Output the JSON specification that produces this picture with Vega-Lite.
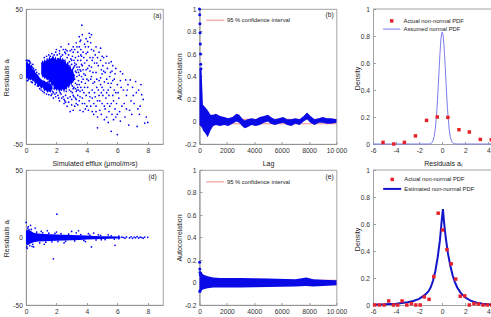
{
"$schema":"https://vega.github.io/schema/vega-lite/v6.json",
"padding":{"left":1,"top":5,"right":0,"bottom":0},
"background":"white",
"config":{
 "font":"Liberation Sans",
 "view":{"stroke":"#8c8c8c","strokeWidth":0.8},
 "axis":{"grid":false,"domainColor":"#8c8c8c","domainWidth":0.8,"tickColor":"#8c8c8c","tickWidth":0.8,"tickSize":-2.5,"labelPadding":6,"labelFontSize":6.7,"labelColor":"#333333","labelFont":"Liberation Sans","titleFont":"Liberation Sans","titleFontSize":7,"titleFontWeight":"normal","titleColor":"#222222","labelFlush":false,"labelOverlap":false},
 "legend":{"labelFont":"Liberation Sans","labelFontSize":5.8,"labelColor":"#222222"}
},
"datasets":{
 "aBand":[{"part":"L","x":0,"lo":-2,"hi":10},{"part":"L","x":0.08,"lo":-1,"hi":12},{"part":"L","x":0.15,"lo":-3,"hi":9},{"part":"L","x":0.22,"lo":-2,"hi":11},{"part":"L","x":0.3,"lo":-3,"hi":8},{"part":"L","x":0.38,"lo":-2,"hi":9},{"part":"L","x":0.45,"lo":-4,"hi":5},{"part":"L","x":0.52,"lo":-3,"hi":6},{"part":"L","x":0.6,"lo":-6,"hi":3},{"part":"L","x":0.7,"lo":-5,"hi":2},{"part":"L","x":0.8,"lo":-8,"hi":1},{"part":"L","x":0.9,"lo":-7,"hi":-1},{"part":"L","x":1.0,"lo":-9,"hi":-2},{"part":"L","x":1.1,"lo":-8,"hi":-3},{"part":"L","x":1.2,"lo":-11,"hi":-3},{"part":"L","x":1.3,"lo":-10,"hi":-4},{"part":"L","x":1.4,"lo":-12,"hi":-4},{"part":"L","x":1.5,"lo":-11,"hi":-5},{"part":"L","x":1.6,"lo":-12,"hi":-5},{"part":"L","x":1.7,"lo":-10,"hi":-7},{"part":"L","x":1.75,"lo":-9,"hi":-8},
  {"part":"M","x":1.0,"lo":2,"hi":9},{"part":"M","x":1.08,"lo":-1,"hi":12},{"part":"M","x":1.15,"lo":0,"hi":10},{"part":"M","x":1.22,"lo":-2,"hi":13},{"part":"M","x":1.3,"lo":-1,"hi":11},{"part":"M","x":1.38,"lo":-3,"hi":14},{"part":"M","x":1.46,"lo":-2,"hi":12},{"part":"M","x":1.54,"lo":-5,"hi":15},{"part":"M","x":1.62,"lo":-4,"hi":13},{"part":"M","x":1.7,"lo":-8,"hi":14},{"part":"M","x":1.78,"lo":-6,"hi":16},{"part":"M","x":1.86,"lo":-10,"hi":13},{"part":"M","x":1.94,"lo":-9,"hi":15},{"part":"M","x":2.02,"lo":-11,"hi":12},{"part":"M","x":2.1,"lo":-9,"hi":14},{"part":"M","x":2.18,"lo":-12,"hi":13},{"part":"M","x":2.26,"lo":-10,"hi":15},{"part":"M","x":2.34,"lo":-11,"hi":12},{"part":"M","x":2.42,"lo":-9,"hi":14},{"part":"M","x":2.5,"lo":-12,"hi":11},{"part":"M","x":2.58,"lo":-9,"hi":13},{"part":"M","x":2.66,"lo":-10,"hi":9},{"part":"M","x":2.74,"lo":-7,"hi":11},{"part":"M","x":2.82,"lo":-9,"hi":7},{"part":"M","x":2.9,"lo":-5,"hi":9},{"part":"M","x":2.98,"lo":-7,"hi":5},{"part":"M","x":3.06,"lo":-3,"hi":6},{"part":"M","x":3.14,"lo":-4,"hi":2},{"part":"M","x":3.2,"lo":-1,"hi":1}],
 "aPts":[{"x":0.02,"y":12},{"x":0.05,"y":8},{"x":0.08,"y":-3},{"x":0.1,"y":12},{"x":0.12,"y":-3},{"x":0.18,"y":11.5},{"x":0.2,"y":12},{"x":0.25,"y":11},{"x":0.3,"y":10},{"x":0.35,"y":-4},{"x":0.4,"y":7},{"x":0.42,"y":-4.5},{"x":0.45,"y":9},{"x":0.5,"y":6},{"x":0.55,"y":4},{"x":0.6,"y":-6},{"x":0.65,"y":5},{"x":0.7,"y":3},{"x":0.75,"y":-7},{"x":0.85,"y":2},{"x":0.9,"y":-9},{"x":1.0,"y":-10},{"x":1.1,"y":-11},{"x":1.2,"y":-12},{"x":1.35,"y":-13},{"x":1.5,"y":-13.5},{"x":1.65,"y":-14},{"x":1.7,"y":-13},{"x":1.8,"y":-12},{"x":1.85,"y":-9},
  {"x":1.05,"y":10},{"x":1.1,"y":11},{"x":1.2,"y":14},{"x":1.35,"y":15},{"x":1.5,"y":16},{"x":1.6,"y":15},{"x":1.7,"y":17},{"x":1.85,"y":16},{"x":1.95,"y":18},{"x":2.05,"y":16},{"x":2.2,"y":17},{"x":2.3,"y":15},{"x":2.4,"y":16},{"x":2.55,"y":18},{"x":2.7,"y":14},{"x":2.8,"y":16},{"x":2.95,"y":13},{"x":3.05,"y":15},{"x":3.15,"y":12},
  {"x":1.9,"y":-13},{"x":2.0,"y":-12},{"x":2.1,"y":-14},{"x":2.3,"y":-13},{"x":2.45,"y":-15},{"x":2.6,"y":-14},{"x":2.75,"y":-16},{"x":2.9,"y":-15},{"x":3.0,"y":-17},{"x":3.1,"y":-14},{"x":3.25,"y":-16},
  {"x":2.5,"y":-17},{"x":2.6,"y":-19},{"x":2.8,"y":-19},{"x":3.0,"y":-21},{"x":2.6,"y":17},{"x":2.9,"y":19},{"x":3.1,"y":18},{"x":3.3,"y":-17},{"x":3.4,"y":-21},{"x":3.5,"y":22},{"x":3.6,"y":12},{"x":3.55,"y":-15},{"x":3.45,"y":-10},{"x":3.6,"y":4},{"x":3.65,"y":-4},{"x":3.7,"y":-10},{"x":2.9,"y":-26},{"x":3.1,"y":-25},{"x":2.5,"y":-20},{"x":2.7,"y":-22},{"x":2.2,"y":-18},{"x":2.4,"y":12},{"x":2.6,"y":20},{"x":2.3,"y":22},{"x":2.8,"y":24},{"x":2.0,"y":20},{"x":1.8,"y":-16},
  {"x":2.95,"y":-11},{"x":3.05,"y":-12},{"x":2.85,"y":11},{"x":3.0,"y":9},{"x":3.1,"y":-9},{"x":3.3,"y":-11},{"x":3.35,"y":7},{"x":3.2,"y":10},{"x":3.5,"y":-6},{"x":3.55,"y":5},
  {"x":3.0,"y":20},{"x":3.1,"y":22},{"x":3.2,"y":8},{"x":3.25,"y":-5},{"x":3.3,"y":25},{"x":3.35,"y":-10},{"x":3.4,"y":18},{"x":3.45,"y":3},{"x":3.5,"y":-18},{"x":3.3,"y":-20},{"x":3.15,"y":-8},{"x":3.2,"y":-22},{"x":3.05,"y":5},{"x":3.4,"y":12},{"x":3.5,"y":7},{"x":3.45,"y":-3},{"x":3.35,"y":0},{"x":3.25,"y":14},{"x":3.15,"y":1},{"x":3.4,"y":-14},
  {"x":3.55,"y":26},{"x":3.6,"y":20},{"x":3.65,"y":15},{"x":3.7,"y":8},{"x":3.75,"y":-2},{"x":3.8,"y":-12},{"x":3.85,"y":-20},{"x":3.9,"y":22},{"x":3.95,"y":5},{"x":3.6,"y":-8},{"x":3.7,"y":-16},{"x":3.8,"y":2},{"x":3.9,"y":-5},{"x":4.0,"y":12},{"x":3.65,"y":0},{"x":3.75,"y":18},{"x":3.85,"y":10},{"x":3.95,"y":-14},{"x":4.0,"y":-22},{"x":3.55,"y":-25},{"x":3.7,"y":31},{"x":3.95,"y":28},{"x":3.67,"y":38},{"x":3.5,"y":29.5},{"x":3.6,"y":27},
  {"x":4.05,"y":18},{"x":4.1,"y":-3},{"x":4.15,"y":8},{"x":4.2,"y":-15},{"x":4.25,"y":25},{"x":4.3,"y":0},{"x":4.35,"y":-10},{"x":4.4,"y":14},{"x":4.45,"y":-20},{"x":4.1,"y":-25},{"x":4.2,"y":4},{"x":4.3,"y":20},{"x":4.4,"y":-5},{"x":4.5,"y":10},{"x":4.05,"y":-8},{"x":4.15,"y":-18},{"x":4.25,"y":-2},{"x":4.35,"y":12},{"x":4.45,"y":-28},{"x":4.5,"y":-12},{"x":4.15,"y":32},{"x":4.3,"y":31},
  {"x":4.55,"y":16},{"x":4.6,"y":3},{"x":4.65,"y":-8},{"x":4.7,"y":-18},{"x":4.75,"y":8},{"x":4.8,"y":-3},{"x":4.85,"y":-25},{"x":4.9,"y":12},{"x":4.95,"y":-12},{"x":5.0,"y":2},{"x":4.6,"y":22},{"x":4.7,"y":-30},{"x":4.8,"y":-14},{"x":4.9,"y":-6},{"x":5.0,"y":-20},{"x":4.65,"y":10},{"x":4.9,"y":21},{"x":5.0,"y":15},{"x":4.7,"y":-38},
  {"x":5.05,"y":8},{"x":5.1,"y":-10},{"x":5.15,"y":-22},{"x":5.2,"y":3},{"x":5.25,"y":-16},{"x":5.3,"y":-30},{"x":5.35,"y":6},{"x":5.4,"y":-5},{"x":5.45,"y":-26},{"x":5.5,"y":0},{"x":5.1,"y":14},{"x":5.3,"y":-12},{"x":5.45,"y":10},{"x":5.3,"y":15},
  {"x":5.55,"y":-8},{"x":5.6,"y":-20},{"x":5.65,"y":4},{"x":5.7,"y":-14},{"x":5.75,"y":-32},{"x":5.8,"y":-2},{"x":5.85,"y":-24},{"x":5.9,"y":-12},{"x":6.0,"y":-28},{"x":5.7,"y":8},{"x":6.0,"y":-6},{"x":5.6,"y":11},{"x":5.9,"y":6},{"x":5.6,"y":-40.6},{"x":6.0,"y":-43},
  {"x":6.1,"y":-16},{"x":6.2,"y":-3},{"x":6.3,"y":-22},{"x":6.4,"y":-10},{"x":6.5,"y":-30},{"x":6.6,"y":-14},{"x":6.7,"y":-6},{"x":6.8,"y":-25},{"x":6.9,"y":-18},{"x":7.0,"y":-8},{"x":6.35,"y":2},{"x":6.75,"y":-36},{"x":6.2,"y":3.7},{"x":6.55,"y":-2.5},{"x":6.85,"y":-2.5},{"x":6.2,"y":-33},
  {"x":7.1,"y":-20},{"x":7.25,"y":-12},{"x":7.5,"y":-22},{"x":7.55,"y":-6},{"x":7.9,"y":-30},{"x":7.2,"y":-3.7},{"x":7.4,"y":-10},{"x":7.6,"y":-13.5},{"x":7.7,"y":-17},{"x":7.45,"y":-28},{"x":7.8,"y":-34.5},{"x":8.0,"y":-34},{"x":7.3,"y":-37},
  {"x":2.65,"y":-8},{"x":2.7,"y":5},{"x":2.75,"y":-3},{"x":2.8,"y":8},{"x":2.85,"y":-6},{"x":2.9,"y":2},{"x":2.95,"y":-1},{"x":3.0,"y":12},{"x":3.05,"y":-4},{"x":3.1,"y":6},{"x":3.15,"y":-15},{"x":3.2,"y":-2},{"x":3.25,"y":4},{"x":3.3,"y":9},{"x":3.35,"y":-6},{"x":3.4,"y":-8},{"x":3.45,"y":15},{"x":3.5,"y":1},{"x":3.55,"y":-11},{"x":3.6,"y":16},{"x":3.65,"y":9},{"x":3.7,"y":-20},{"x":3.75,"y":5},{"x":3.8,"y":14},{"x":3.85,"y":-8},{"x":3.9,"y":1},{"x":3.95,"y":17},{"x":4.0,"y":-2},{"x":4.05,"y":6},{"x":4.1,"y":22},{"x":4.15,"y":-12},{"x":4.2,"y":14},{"x":4.25,"y":-22},{"x":4.3,"y":7},{"x":4.35,"y":-16},{"x":4.4,"y":3},{"x":4.45,"y":19},{"x":4.5,"y":-4},{"x":4.55,"y":-15},{"x":4.6,"y":-22},{"x":4.65,"y":-2},{"x":4.7,"y":14},{"x":4.75,"y":-10},{"x":4.8,"y":18},{"x":4.85,"y":-18},{"x":4.9,"y":-1},{"x":4.95,"y":5},{"x":5.0,"y":-8},{"x":5.05,"y":-14},{"x":5.1,"y":4},{"x":5.15,"y":-4},{"x":5.2,"y":-24},{"x":5.25,"y":10},{"x":5.3,"y":-2},{"x":5.35,"y":-20},{"x":5.4,"y":-10},{"x":5.45,"y":-14},{"x":5.5,"y":-22},{"x":5.55,"y":3},{"x":5.6,"y":-5},{"x":5.65,"y":-28},{"x":5.7,"y":-3},{"x":5.75,"y":-18},{"x":5.8,"y":-10},{"x":5.85,"y":2},{"x":5.9,"y":-30},{"x":5.95,"y":-20},{"x":6.05,"y":-12},{"x":6.15,"y":-26},{"x":6.25,"y":-8},{"x":6.45,"y":-20},{"x":6.6,"y":-24},{"x":6.65,"y":-10},{"x":6.95,"y":-28},{"x":7.05,"y":-14},{"x":7.35,"y":-24},{"x":2.2,"y":19},{"x":2.45,"y":20},{"x":2.7,"y":19},{"x":2.55,"y":-18},{"x":2.35,"y":-16},{"x":1.95,"y":-15},{"x":2.15,"y":-16},{"x":3.2,"y":20},{"x":3.35,"y":22},{"x":3.85,"y":24},{"x":4.05,"y":26},{"x":4.2,"y":29},{"x":3.75,"y":-26},{"x":3.9,"y":-24},{"x":4.35,"y":-26},{"x":4.6,"y":-26},{"x":4.95,"y":-28},{"x":5.15,"y":-32},{"x":5.4,"y":-34},
  {"x":1.3,"y":11},{"x":1.45,"y":-4},{"x":1.55,"y":13},{"x":1.75,"y":-11},{"x":2.1,"y":13},{"x":2.25,"y":-12},{"x":2.5,"y":12},{"x":2.65,"y":-11},{"x":2.75,"y":10},{"x":2.85,"y":-10},{"x":3.05,"y":-7},{"x":3.15,"y":7},{"x":3.25,"y":-9},{"x":3.3,"y":3},{"x":3.4,"y":5}],
 "dBand":[{"x":0,"lo":-5,"hi":5},{"x":0.1,"lo":-6,"hi":6},{"x":0.2,"lo":-5,"hi":5.5},{"x":0.3,"lo":-4.5,"hi":5},{"x":0.5,"lo":-3.5,"hi":3.5},{"x":0.8,"lo":-3,"hi":3},{"x":1.2,"lo":-2.8,"hi":2.6},{"x":1.6,"lo":-2.6,"hi":2.4},{"x":2.0,"lo":-2.4,"hi":2.2},{"x":2.5,"lo":-2.2,"hi":2},{"x":3.0,"lo":-2,"hi":1.8},{"x":3.5,"lo":-1.8,"hi":1.6},{"x":4.0,"lo":-1.5,"hi":1.4},{"x":4.5,"lo":-1.3,"hi":1.2},{"x":5.0,"lo":-1.2,"hi":1},{"x":5.5,"lo":-1,"hi":0.9},{"x":6.0,"lo":-0.8,"hi":0.8},{"x":6.2,"lo":-0.5,"hi":0.5}],
 "dPts":[{"x":0,"y":11.2},{"x":2.03,"y":17.3},{"x":1.8,"y":-15.8},{"x":0.5,"y":-7},{"x":4.3,"y":-7},{"x":5.85,"y":-5.8},{"x":3.45,"y":5},{"x":3.0,"y":4.5},{"x":0.6,"y":7},{"x":1.0,"y":4.6},{"x":0.2,"y":5.8},{"x":4.1,"y":2.8},{"x":4.45,"y":3.3},{"x":4.75,"y":2},{"x":5.4,"y":2},{"x":4.95,"y":-1.6},{"x":6.1,"y":-0.9},{"x":6.4,"y":0},
  {"x":0.05,"y":-7},{"x":0.15,"y":8},{"x":0.25,"y":-6},{"x":0.35,"y":6},{"x":0.45,"y":-5},{"x":0.7,"y":4},{"x":0.9,"y":-4},{"x":1.1,"y":3.5},{"x":1.3,"y":-3.5},{"x":1.5,"y":3.2},{"x":1.7,"y":-3.2},{"x":1.9,"y":3},{"x":2.1,"y":-3},{"x":2.3,"y":2.8},{"x":2.6,"y":-2.8},{"x":2.8,"y":2.5},{"x":3.2,"y":-2.5},{"x":3.6,"y":2.2},{"x":3.8,"y":-2.2},{"x":4.2,"y":1.8},{"x":4.6,"y":-1.8},{"x":4.9,"y":1.6},{"x":5.2,"y":-1.5},{"x":5.6,"y":1.3},{"x":5.8,"y":-1.2},{"x":6.1,"y":1},
  {"x":6.3,"y":0.2},{"x":6.5,"y":-0.5},{"x":6.6,"y":0.4},{"x":6.8,"y":-0.3},{"x":6.9,"y":0.5},{"x":7.0,"y":-0.6},{"x":7.1,"y":0.3},{"x":7.2,"y":-0.2},{"x":7.3,"y":0.6},{"x":7.4,"y":-0.4},{"x":7.5,"y":0.2},{"x":7.6,"y":0},{"x":7.7,"y":-0.5},{"x":7.8,"y":0.3},{"x":8.0,"y":0.1},
  {"x":0.08,"y":-8},{"x":0.3,"y":9},{"x":1.4,"y":5},{"x":2.5,"y":-4},{"x":3.3,"y":3.5},{"x":0.4,"y":-6.5},{"x":0.12,"y":7},{"x":2.0,"y":4},{"x":1.2,"y":-5},{"x":3.9,"y":-3}],
 "bBand":[{"lag":0,"lo":-0.03,"hi":0.47},{"lag":150,"lo":-0.05,"hi":0.46},{"lag":200,"lo":-0.06,"hi":0.3},{"lag":250,"lo":-0.08,"hi":0.15},{"lag":400,"lo":-0.1,"hi":0.13},{"lag":600,"lo":-0.14,"hi":0.1},{"lag":800,"lo":-0.08,"hi":0.06},{"lag":1000,"lo":-0.04,"hi":0.06},{"lag":1200,"lo":-0.03,"hi":0.07},{"lag":1500,"lo":-0.04,"hi":0.05},{"lag":1800,"lo":-0.03,"hi":0.04},{"lag":2100,"lo":-0.04,"hi":0.03},{"lag":2400,"lo":-0.02,"hi":0.04},{"lag":2700,"lo":0.0,"hi":0.07},{"lag":2900,"lo":-0.01,"hi":0.06},{"lag":3100,"lo":-0.04,"hi":0.03},{"lag":3300,"lo":-0.06,"hi":0.01},{"lag":3500,"lo":-0.05,"hi":0.02},{"lag":3800,"lo":-0.03,"hi":0.03},{"lag":4100,"lo":-0.04,"hi":0.02},{"lag":4400,"lo":-0.03,"hi":0.04},{"lag":4700,"lo":-0.01,"hi":0.05},{"lag":5000,"lo":0.0,"hi":0.06},{"lag":5200,"lo":-0.02,"hi":0.04},{"lag":5500,"lo":-0.03,"hi":0.02},{"lag":5800,"lo":-0.02,"hi":0.03},{"lag":6100,"lo":-0.01,"hi":0.04},{"lag":6400,"lo":-0.03,"hi":0.02},{"lag":6700,"lo":-0.04,"hi":0.02},{"lag":7000,"lo":-0.02,"hi":0.03},{"lag":7300,"lo":-0.03,"hi":0.02},{"lag":7600,"lo":0.0,"hi":0.05},{"lag":7850,"lo":0.02,"hi":0.08},{"lag":8100,"lo":-0.01,"hi":0.05},{"lag":8400,"lo":-0.03,"hi":0.02},{"lag":8700,"lo":-0.01,"hi":0.03},{"lag":9000,"lo":-0.01,"hi":0.04},{"lag":9300,"lo":-0.02,"hi":0.03},{"lag":9600,"lo":-0.02,"hi":0.03},{"lag":10000,"lo":-0.01,"hi":0.02}],
 "bPts":[{"lag":0,"y":1},{"lag":15,"y":0.95},{"lag":30,"y":0.87},{"lag":45,"y":0.79},{"lag":60,"y":0.69},{"lag":75,"y":0.6},{"lag":90,"y":0.51},{"lag":105,"y":0.47}],
 "eBand":[{"lag":0,"lo":-0.08,"hi":0.09},{"lag":300,"lo":-0.06,"hi":0.07},{"lag":600,"lo":-0.05,"hi":0.055},{"lag":1000,"lo":-0.045,"hi":0.045},{"lag":1500,"lo":-0.045,"hi":0.04},{"lag":3000,"lo":-0.045,"hi":0.04},{"lag":5000,"lo":-0.04,"hi":0.035},{"lag":7000,"lo":-0.035,"hi":0.03},{"lag":7800,"lo":-0.03,"hi":0.045},{"lag":8300,"lo":-0.035,"hi":0.03},{"lag":9000,"lo":-0.03,"hi":0.025},{"lag":10000,"lo":-0.025,"hi":0.02}],
 "ePts":[{"lag":10,"y":0.18},{"lag":25,"y":0.12},{"lag":40,"y":0.09},{"lag":60,"y":0.07},{"lag":20,"y":-0.08},{"lag":50,"y":-0.07},{"lag":100,"y":0.08},{"lag":200,"y":0.06}],
 "ci":[{"lag":0,"lag2":10000,"ci":0.02,"s":"95 % confidence interval"},{"lag":0,"lag2":10000,"ci":-0.02,"s":"95 % confidence interval"}],
 "cLine":[{"x":-6,"y":0},{"x":-1.2,"y":0},{"x":-1.0,"y":0.003},{"x":-0.9,"y":0.009},{"x":-0.8,"y":0.024},{"x":-0.7,"y":0.055},{"x":-0.6,"y":0.112},{"x":-0.5,"y":0.207},{"x":-0.45,"y":0.269},{"x":-0.4,"y":0.341},{"x":-0.35,"y":0.42},{"x":-0.3,"y":0.503},{"x":-0.25,"y":0.587},{"x":-0.2,"y":0.665},{"x":-0.15,"y":0.732},{"x":-0.1,"y":0.785},{"x":-0.05,"y":0.818},{"x":0,"y":0.83},{"x":0.05,"y":0.818},{"x":0.1,"y":0.785},{"x":0.15,"y":0.732},{"x":0.2,"y":0.665},{"x":0.25,"y":0.587},{"x":0.3,"y":0.503},{"x":0.35,"y":0.42},{"x":0.4,"y":0.341},{"x":0.45,"y":0.269},{"x":0.5,"y":0.207},{"x":0.6,"y":0.112},{"x":0.7,"y":0.055},{"x":0.8,"y":0.024},{"x":0.9,"y":0.009},{"x":1.0,"y":0.003},{"x":1.2,"y":0},{"x":4.4,"y":0}],
 "cPts":[{"x":-5.13,"y":0.012},{"x":-4.2,"y":0},{"x":-3.28,"y":0.012},{"x":-2.32,"y":0.06},{"x":-1.36,"y":0.175},{"x":-0.43,"y":0.2},{"x":0.49,"y":0.197},{"x":1.45,"y":0.106},{"x":2.35,"y":0.089},{"x":3.3,"y":0.034},{"x":4.26,"y":0.032}],
 "fLine":[{"x":-6,"y":0.002},{"x":-5,"y":0.005},{"x":-4,"y":0.01},{"x":-3,"y":0.02},{"x":-2.5,"y":0.03},{"x":-2,"y":0.045},{"x":-1.5,"y":0.075},{"x":-1.2,"y":0.1},{"x":-1.0,"y":0.13},{"x":-0.8,"y":0.18},{"x":-0.6,"y":0.25},{"x":-0.4,"y":0.35},{"x":-0.2,"y":0.48},{"x":-0.05,"y":0.62},{"x":0.06,"y":0.71},{"x":0.15,"y":0.62},{"x":0.3,"y":0.5},{"x":0.5,"y":0.38},{"x":0.7,"y":0.29},{"x":0.9,"y":0.22},{"x":1.1,"y":0.17},{"x":1.3,"y":0.13},{"x":1.6,"y":0.09},{"x":2,"y":0.055},{"x":2.5,"y":0.03},{"x":3,"y":0.017},{"x":3.5,"y":0.009},{"x":4,"y":0.005},{"x":4.4,"y":0.003}],
 "fPts":[{"x":-5.86,"y":0},{"x":-5.45,"y":0},{"x":-5.04,"y":0},{"x":-4.64,"y":0.03},{"x":-4.23,"y":0},{"x":-3.86,"y":0},{"x":-3.48,"y":0.03},{"x":-3.07,"y":0},{"x":-2.67,"y":0.01},{"x":-2.29,"y":0},{"x":-1.91,"y":0},{"x":-1.55,"y":0.06},{"x":-1.14,"y":0.042},{"x":-0.73,"y":0.21},{"x":-0.35,"y":0.68},{"x":0.03,"y":0.556},{"x":0.41,"y":0.41},{"x":0.78,"y":0.305},{"x":1.17,"y":0.192},{"x":1.56,"y":0.065},{"x":1.95,"y":0.068},{"x":2.35,"y":0},{"x":2.75,"y":0.01},{"x":3.13,"y":0.007},{"x":3.54,"y":0},{"x":3.91,"y":0},{"x":4.29,"y":0}]
},
"columns":3,
"spacing":{"row":26,"column":36.5},
"bounds":"flush",
"resolve":{"scale":{"color":"independent"},"legend":{"color":"independent"}},
"concat":[
 {"width":137,"height":135,
  "encoding":{"x":{"field":"x","type":"quantitative","scale":{"domain":[0,9],"nice":false},"axis":{"values":[0,2,4,6,8],"labelExpr":"''+datum.value","title":"Simulated efflux (μmol/m²s)","titleY":15.5,"titleBaseline":"top"}},
   "y":{"field":"y","type":"quantitative","scale":{"domain":[-50,50],"nice":false},"axis":{"values":[-50,0,50],"labelExpr":"''+datum.value","title":"Residuals aₜ","titleAngle":270,"titleBaseline":"alphabetic","titleAlign":"center","titleX":-17.7,"titleY":67.5}}},
  "layer":[
   {"data":{"name":"aBand"},"mark":{"type":"area","color":"#0000ff"},"encoding":{"y":{"field":"lo","type":"quantitative","scale":{"domain":[-50,50],"nice":false},"axis":{"values":[-50,0,50],"labelExpr":"''+datum.value","title":"Residuals aₜ","titleAngle":270,"titleBaseline":"alphabetic","titleAlign":"center","titleX":-17.7,"titleY":67.5}},"y2":{"field":"hi"},"detail":{"field":"part"}}},
   {"data":{"name":"aPts"},"mark":{"type":"point","filled":true,"size":3,"color":"#0000ff","opacity":1}},
   {"data":{"values":[{"x":8.63,"y":45,"t":"(a)"}]},"mark":{"type":"text","fontSize":6.7,"color":"#222222"},"encoding":{"text":{"field":"t"}}}
  ]},
 {"width":137,"height":135,
  "encoding":{"x":{"field":"lag","type":"quantitative","scale":{"domain":[0,10000],"nice":false},"axis":{"values":[0,2000,4000,6000,8000,10000],"labelExpr":"datum.value==10000?'10 000':''+datum.value","title":"Lag","titleY":15.5,"titleBaseline":"top"}}},
  "layer":[
   {"data":{"name":"ci"},"mark":{"type":"rule","strokeWidth":0.8},"encoding":{"x2":{"field":"lag2"},"y":{"field":"ci","type":"quantitative","scale":{"domain":[-0.2,1],"nice":false},"axis":{"values":[-0.2,0,0.2,0.4,0.6,0.8,1],"labelExpr":"''+datum.value","title":"Autocorrelation","titleAngle":270,"titleBaseline":"alphabetic","titleAlign":"center","titleX":-18,"titleY":67.5}},"color":{"field":"s","type":"nominal","scale":{"range":["#f06a6a"]},"legend":{"title":null,"orient":"none","legendX":5.75,"legendY":1.2,"padding":0,"symbolType":"stroke","symbolSize":335,"symbolStrokeWidth":0.8,"labelFontSize":5.8,"labelOffset":1.7}}}},
   {"data":{"name":"bBand"},"mark":{"type":"area","color":"#0a0ae6"},"encoding":{"y":{"field":"lo","type":"quantitative","scale":{"domain":[-0.2,1],"nice":false},"axis":{"values":[-0.2,0,0.2,0.4,0.6,0.8,1],"labelExpr":"''+datum.value","title":"Autocorrelation","titleAngle":270,"titleBaseline":"alphabetic","titleAlign":"center","titleX":-18,"titleY":67.5}},"y2":{"field":"hi"}}},
   {"data":{"name":"bPts"},"mark":{"type":"point","filled":true,"size":9,"color":"#0a0ae6","opacity":1},"encoding":{"y":{"field":"y","type":"quantitative","scale":{"domain":[-0.2,1],"nice":false},"axis":{"values":[-0.2,0,0.2,0.4,0.6,0.8,1],"labelExpr":"''+datum.value","title":"Autocorrelation","titleAngle":270,"titleBaseline":"alphabetic","titleAlign":"center","titleX":-18,"titleY":67.5}}}},
   {"data":{"values":[{"lag":9500,"y":0.945,"t":"(b)"}]},"mark":{"type":"text","fontSize":6.7,"color":"#222222"},"encoding":{"y":{"field":"y","type":"quantitative","scale":{"domain":[-0.2,1],"nice":false},"axis":{"values":[-0.2,0,0.2,0.4,0.6,0.8,1],"labelExpr":"''+datum.value","title":"Autocorrelation","titleAngle":270,"titleBaseline":"alphabetic","titleAlign":"center","titleX":-18,"titleY":67.5}},"text":{"field":"t"}}}
  ]},
 {"width":120,"height":135,"view":{"stroke":null},
  "encoding":{"x":{"field":"x","type":"quantitative","scale":{"domain":[-6,4.4],"nice":false},"axis":{"values":[-6,-4,-2,0,2,4],"labelExpr":"''+datum.value","title":"Residuals aₜ","titleX":70,"titleY":15.5,"titleBaseline":"top"}},
   "y":{"field":"y","type":"quantitative","scale":{"domain":[0,1],"nice":false},"axis":{"values":[0,0.2,0.4,0.6,0.8,1],"labelExpr":"''+datum.value","title":"Density","titleAngle":270,"titleBaseline":"alphabetic","titleAlign":"center","titleX":-13.7,"titleY":69}}},
  "layer":[
   {"data":{"values":[{"x":-6,"x2":4.4,"y":1}]},"mark":{"type":"rule","color":"#8c8c8c","strokeWidth":0.8},"encoding":{"x2":{"field":"x2"}}},
   {"data":{"name":"cLine"},"transform":[{"calculate":"'Assumed normal PDF'","as":"s"}],"mark":{"type":"line","strokeWidth":1},"encoding":{"color":{"field":"s","type":"nominal","scale":{"domain":["Actual non-normal PDF","Assumed normal PDF"],"range":["#e8202a","#7b7bf0"]},"legend":{"title":null,"orient":"none","legendX":15.8,"legendY":9,"padding":0,"symbolSize":300,"labelFontSize":5.8,"labelOffset":9,"rowPadding":1.2,"encode":{"symbols":{"update":{"shape":{"signal":"datum.value === 'Assumed normal PDF' ? 'stroke' : 'square'"},"size":{"signal":"datum.value === 'Assumed normal PDF' ? 300 : 12"},"fill":{"signal":"datum.value === 'Assumed normal PDF' ? 'transparent' : '#e8202a'"},"stroke":{"signal":"datum.value === 'Assumed normal PDF' ? '#7b7bf0' : '#e8202a'"},"strokeWidth":{"signal":"datum.value === 'Assumed normal PDF' ? 1 : 0"},"opacity":{"value":1}}}}}}}},
   {"data":{"name":"cPts"},"transform":[{"calculate":"'Actual non-normal PDF'","as":"s"}],"mark":{"type":"point","shape":"square","filled":true,"size":12,"opacity":1},"encoding":{"color":{"field":"s","type":"nominal","scale":{"domain":["Actual non-normal PDF","Assumed normal PDF"],"range":["#e8202a","#7b7bf0"]},"legend":{"title":null,"orient":"none","legendX":15.8,"legendY":9,"padding":0,"symbolSize":300,"labelFontSize":5.8,"labelOffset":9,"rowPadding":1.2,"encode":{"symbols":{"update":{"shape":{"signal":"datum.value === 'Assumed normal PDF' ? 'stroke' : 'square'"},"size":{"signal":"datum.value === 'Assumed normal PDF' ? 300 : 12"},"fill":{"signal":"datum.value === 'Assumed normal PDF' ? 'transparent' : '#e8202a'"},"stroke":{"signal":"datum.value === 'Assumed normal PDF' ? '#7b7bf0' : '#e8202a'"},"strokeWidth":{"signal":"datum.value === 'Assumed normal PDF' ? 1 : 0"},"opacity":{"value":1}}}}}}}}
  ]},
 {"width":137,"height":135,
  "encoding":{"x":{"field":"x","type":"quantitative","scale":{"domain":[0,9],"nice":false},"axis":{"values":[0,2,4,6,8],"labelExpr":"''+datum.value","title":null}},
   "y":{"field":"y","type":"quantitative","scale":{"domain":[-50,50],"nice":false},"axis":{"values":[-50,0,50],"labelExpr":"''+datum.value","title":"Residuals aₜ","titleAngle":270,"titleBaseline":"alphabetic","titleAlign":"center","titleX":-17.7,"titleY":67.5}}},
  "layer":[
   {"data":{"name":"dBand"},"mark":{"type":"area","color":"#0000ff"},"encoding":{"y":{"field":"lo","type":"quantitative","scale":{"domain":[-50,50],"nice":false},"axis":{"values":[-50,0,50],"labelExpr":"''+datum.value","title":"Residuals aₜ","titleAngle":270,"titleBaseline":"alphabetic","titleAlign":"center","titleX":-17.7,"titleY":67.5}},"y2":{"field":"hi"}}},
   {"data":{"name":"dPts"},"mark":{"type":"point","filled":true,"size":3,"color":"#0000ff","opacity":1}},
   {"data":{"values":[{"x":8.32,"y":45,"t":"(d)"}]},"mark":{"type":"text","fontSize":6.7,"color":"#222222"},"encoding":{"text":{"field":"t"}}}
  ]},
 {"width":137,"height":135,
  "encoding":{"x":{"field":"lag","type":"quantitative","scale":{"domain":[0,10000],"nice":false},"axis":{"values":[0,2000,4000,6000,8000,10000],"labelExpr":"datum.value==10000?'10 000':''+datum.value","title":null}}},
  "layer":[
   {"data":{"name":"ci"},"mark":{"type":"rule","strokeWidth":0.8},"encoding":{"x2":{"field":"lag2"},"y":{"field":"ci","type":"quantitative","scale":{"domain":[-0.2,1],"nice":false},"axis":{"values":[-0.2,0,0.2,0.4,0.6,0.8,1],"labelExpr":"''+datum.value","title":"Autocorrelation","titleAngle":270,"titleBaseline":"alphabetic","titleAlign":"center","titleX":-18,"titleY":67.5}},"color":{"field":"s","type":"nominal","scale":{"range":["#f06a6a"]},"legend":{"title":null,"orient":"none","legendX":5.75,"legendY":1.9,"padding":0,"symbolType":"stroke","symbolSize":335,"symbolStrokeWidth":0.8,"labelFontSize":5.8,"labelOffset":1.7}}}},
   {"data":{"name":"eBand"},"mark":{"type":"area","color":"#0a0ae6"},"encoding":{"y":{"field":"lo","type":"quantitative","scale":{"domain":[-0.2,1],"nice":false},"axis":{"values":[-0.2,0,0.2,0.4,0.6,0.8,1],"labelExpr":"''+datum.value","title":"Autocorrelation","titleAngle":270,"titleBaseline":"alphabetic","titleAlign":"center","titleX":-18,"titleY":67.5}},"y2":{"field":"hi"}}},
   {"data":{"name":"ePts"},"mark":{"type":"point","filled":true,"size":9,"color":"#0a0ae6","opacity":1},"encoding":{"y":{"field":"y","type":"quantitative","scale":{"domain":[-0.2,1],"nice":false},"axis":{"values":[-0.2,0,0.2,0.4,0.6,0.8,1],"labelExpr":"''+datum.value","title":"Autocorrelation","titleAngle":270,"titleBaseline":"alphabetic","titleAlign":"center","titleX":-18,"titleY":67.5}}}},
   {"data":{"values":[{"lag":9500,"y":0.94,"t":"(e)"}]},"mark":{"type":"text","fontSize":6.7,"color":"#222222"},"encoding":{"y":{"field":"y","type":"quantitative","scale":{"domain":[-0.2,1],"nice":false},"axis":{"values":[-0.2,0,0.2,0.4,0.6,0.8,1],"labelExpr":"''+datum.value","title":"Autocorrelation","titleAngle":270,"titleBaseline":"alphabetic","titleAlign":"center","titleX":-18,"titleY":67.5}},"text":{"field":"t"}}}
  ]},
 {"width":120,"height":135,"view":{"stroke":null},
  "encoding":{"x":{"field":"x","type":"quantitative","scale":{"domain":[-6,4.4],"nice":false},"axis":{"values":[-6,-4,-2,0,2,4],"labelExpr":"''+datum.value","title":null}},
   "y":{"field":"y","type":"quantitative","scale":{"domain":[0,1],"nice":false},"axis":{"values":[0,0.2,0.4,0.6,0.8,1],"labelExpr":"''+datum.value","title":"Density","titleAngle":270,"titleBaseline":"alphabetic","titleAlign":"center","titleX":-13.7,"titleY":69}}},
  "layer":[
   {"data":{"values":[{"x":-6,"x2":4.4,"y":1}]},"mark":{"type":"rule","color":"#8c8c8c","strokeWidth":0.8},"encoding":{"x2":{"field":"x2"}}},
   {"data":{"name":"fLine"},"transform":[{"calculate":"'Estimated non-normal PDF'","as":"s"}],"mark":{"type":"line","strokeWidth":2},"encoding":{"color":{"field":"s","type":"nominal","scale":{"domain":["Actual non-normal PDF","Estimated non-normal PDF"],"range":["#e8202a","#1414c8"]},"legend":{"title":null,"orient":"none","legendX":16.3,"legendY":6.5,"padding":0,"symbolSize":324,"labelFontSize":5.8,"labelOffset":9.2,"rowPadding":1.5,"encode":{"symbols":{"update":{"shape":{"signal":"datum.value === 'Estimated non-normal PDF' ? 'stroke' : 'square'"},"size":{"signal":"datum.value === 'Estimated non-normal PDF' ? 324 : 12"},"fill":{"signal":"datum.value === 'Estimated non-normal PDF' ? 'transparent' : '#e8202a'"},"stroke":{"signal":"datum.value === 'Estimated non-normal PDF' ? '#1414c8' : '#e8202a'"},"strokeWidth":{"signal":"datum.value === 'Estimated non-normal PDF' ? 2 : 0"},"opacity":{"value":1}}}}}}}},
   {"data":{"name":"fPts"},"transform":[{"calculate":"'Actual non-normal PDF'","as":"s"}],"mark":{"type":"point","shape":"square","filled":true,"size":12,"opacity":1},"encoding":{"color":{"field":"s","type":"nominal","scale":{"domain":["Actual non-normal PDF","Estimated non-normal PDF"],"range":["#e8202a","#1414c8"]},"legend":{"title":null,"orient":"none","legendX":16.3,"legendY":6.5,"padding":0,"symbolSize":324,"labelFontSize":5.8,"labelOffset":9.2,"rowPadding":1.5,"encode":{"symbols":{"update":{"shape":{"signal":"datum.value === 'Estimated non-normal PDF' ? 'stroke' : 'square'"},"size":{"signal":"datum.value === 'Estimated non-normal PDF' ? 324 : 12"},"fill":{"signal":"datum.value === 'Estimated non-normal PDF' ? 'transparent' : '#e8202a'"},"stroke":{"signal":"datum.value === 'Estimated non-normal PDF' ? '#1414c8' : '#e8202a'"},"strokeWidth":{"signal":"datum.value === 'Estimated non-normal PDF' ? 2 : 0"},"opacity":{"value":1}}}}}}}}
  ]}
]
}
